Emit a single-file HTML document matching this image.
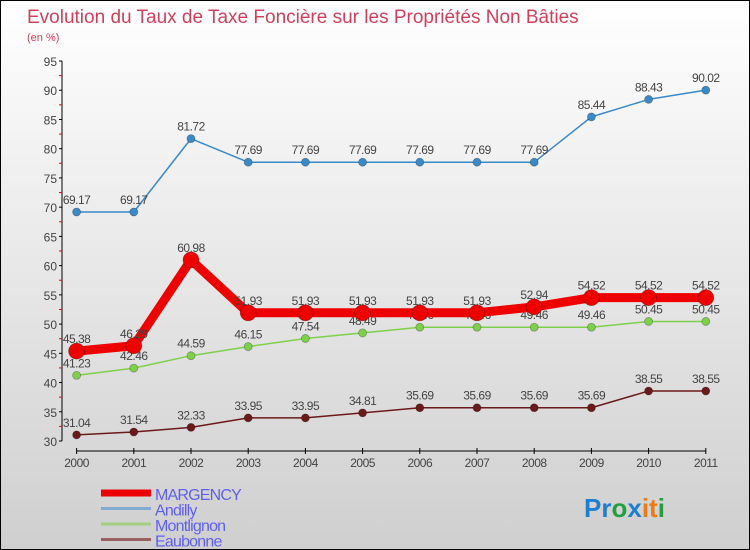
<!DOCTYPE html>
<html><head><meta charset="utf-8"><style>
body{margin:0;}
#wrap{width:748px;height:548px;border:1px solid #000;background:linear-gradient(#ffffff,#cfcfcf);position:relative;overflow:hidden;font-family:"Liberation Sans",sans-serif;}
svg{position:absolute;left:0;top:0}
</style></head><body>
<div id="wrap">
<svg id="c" width="750" height="550">
<text x="26" y="22" font-size="19" fill="#d0405a">Evolution du Taux de Taxe Foncière sur les Propriétés Non Bâties</text>
<text x="26" y="40" font-size="11" fill="#d0405a">(en %)</text>
<text x="583" y="516" font-size="26" font-weight="bold"><tspan fill="#1e7fd0">Pr</tspan><tspan fill="#22a040">o</tspan><tspan fill="#1e7fd0">x</tspan><tspan fill="#f07a10">it</tspan><tspan fill="#22a040">i</tspan></text>
</svg>
</div>
<script>
const years=["2000","2001","2002","2003","2004","2005","2006","2007","2008","2009","2010","2011"];
const yTicks=[30,35,40,45,50,55,60,65,70,75,80,85,90,95];
const margency=[45.38,46.29,60.98,51.93,51.93,51.93,51.93,51.93,52.94,54.52,54.52,54.52];
const andilly=[69.17,69.17,81.72,77.69,77.69,77.69,77.69,77.69,77.69,85.44,88.43,90.02];
const montlignon=[41.23,42.46,44.59,46.15,47.54,48.49,49.46,49.46,49.46,49.46,50.45,50.45];
const eaubonne=[31.04,31.54,32.33,33.95,33.95,34.81,35.69,35.69,35.69,35.69,38.55,38.55];
const svg=document.getElementById('c');const NS="http://www.w3.org/2000/svg";
function X(i){return 75.6+i*57.2;}
function Y(v){return 440-(v-30)*(380/65);}
function mk(t,a,p){const e=document.createElementNS(NS,t);for(const k in a)e.setAttribute(k,a[k]);(p||svg).appendChild(e);return e;}
const ax=mk('g',{});


mk('line',{x1:61,y1:Y(95),x2:61,y2:440,stroke:'#000'},ax);
mk('line',{x1:X(0),y1:450,x2:X(11),y2:450,stroke:'#000'},ax);
yTicks.forEach((v,i)=>{
 mk('line',{x1:58,y1:Y(v),x2:61,y2:Y(v),stroke:'#000'},ax);
 if(i<yTicks.length-1)mk('line',{x1:58,y1:Y(v+2.5),x2:61,y2:Y(v+2.5),stroke:'#e00'},ax);
 const t=mk('text',{x:56,y:Y(v)+5,'font-size':12,fill:'#444','text-anchor':'end'},ax);t.textContent=v;
 
 
});
years.forEach((y,i)=>{
 mk('line',{x1:X(i),y1:447,x2:X(i),y2:453,stroke:'#000'},ax);
 const t=mk('text',{x:X(i),y:466,'font-size':12,fill:'#444','text-anchor':'middle','letter-spacing':'-0.5'},ax);t.textContent=y;
 
 
});
function series(vals,color,w,r,name){
 const g=mk('g',{});
 
 
 mk('polyline',{points:vals.map((v,i)=>X(i)+','+Y(v)).join(' '),fill:'none',stroke:color,'stroke-width':w,'stroke-linejoin':'round'},g);
 vals.forEach((v,i)=>{
  const c=mk('circle',{cx:X(i),cy:Y(v),r:r,fill:color,stroke:'rgba(0,0,0,0.3)','stroke-width':0.8},g);
  
  
  const t=mk('text',{x:X(i),y:Y(v)-8,'font-size':12,fill:'#444','text-anchor':'middle','letter-spacing':'-0.5'},g);t.textContent=v.toFixed(2);
  
  
 });
}
series(eaubonne,'#6b1a1a',1.5,4,'eaubonne');
series(montlignon,'#7ed04a',1.5,4,'montlignon');
series(andilly,'#3a8ac8',1.5,4,'andilly');
series(margency,'#ee0000',9,8,'margency');
const lg=[['MARGENCY','#ee0000',7],['Andilly','#80aad0',3],['Montlignon','#a0d080',3],['Eaubonne','#9a6060',3]];
lg.forEach((l,i)=>{
 const g=mk('g',{});
 
 
 const y=492+i*15.5;
 mk('line',{x1:100,y1:y,x2:150,y2:y,stroke:l[1],'stroke-width':l[2]},g);
 const t=mk('text',{x:154,y:y+7,'font-size':16,fill:'#6060f0','letter-spacing':'-0.8'},g);t.textContent=l[0];
});
</script>
</body></html>
